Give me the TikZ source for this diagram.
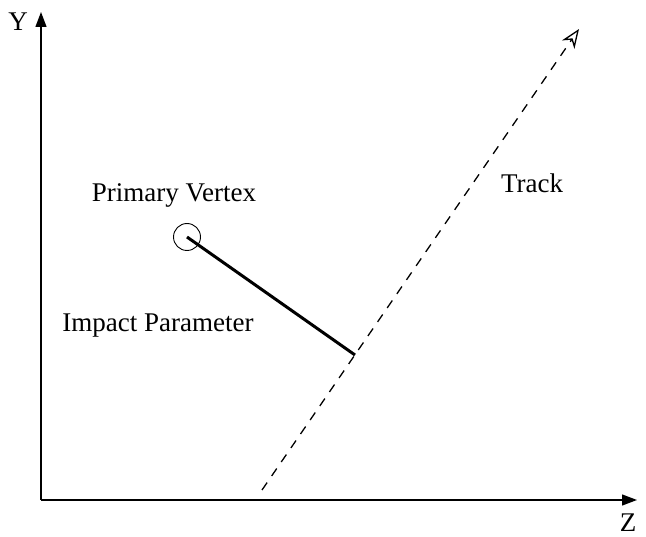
\documentclass[tikz,border=0pt]{standalone}
\usepackage{fontspec}
\setmainfont{Liberation Serif}
\usetikzlibrary{arrows.meta,positioning}

\begin{document}
\begin{tikzpicture}[
    x=1pt, y=-1pt,
    font=\fontsize{27}{31}\selectfont,
    axisLine/.style={
        -{Triangle[length=15pt, width=11pt]}, line width=1.3pt
    },
    trackLine/.style={
        -{Stealth[open, length=19pt, width=15pt, inset=6pt]}, line width=1.3pt,
        dash pattern=on 9pt off 8pt
    },
    ipLine/.style={line width=3pt},
    vertexNode/.style={circle, draw, line width=0.9pt, minimum size=27pt, inner sep=0pt},
    labelNode/.style={inner sep=0pt, anchor=base}
]
\useasboundingbox (0,0) rectangle (646,537);

% Axes
\coordinate (origin) at (41,500);
\coordinate (yTop) at (41,12);
\coordinate (zEnd) at (637,500);
\draw[axisLine] (origin) -- (yTop);
\draw[axisLine] (origin) -- (zEnd);
\node[labelNode] (yLabel) at (18,31) {Y};
\node[labelNode] (zLabel) at (628,532) {Z};

% Track
\coordinate (trackStart) at (262,490);
\coordinate (trackEnd) at (579,29);
\draw[trackLine] (trackStart) -- (trackEnd);
\node[labelNode] (trackLabel) at (532,193) {Track};

% Primary vertex and impact parameter
\node[vertexNode] (vertex) at (187,237) {};
\coordinate (ipEnd) at (355,355);
\draw[ipLine] (vertex.center) -- (ipEnd);
\node[labelNode] (vertexLabel) at (174,202) {Primary Vertex};
\node[labelNode] (ipLabel) at (158,332) {Impact Parameter};

\end{tikzpicture}
\end{document}
